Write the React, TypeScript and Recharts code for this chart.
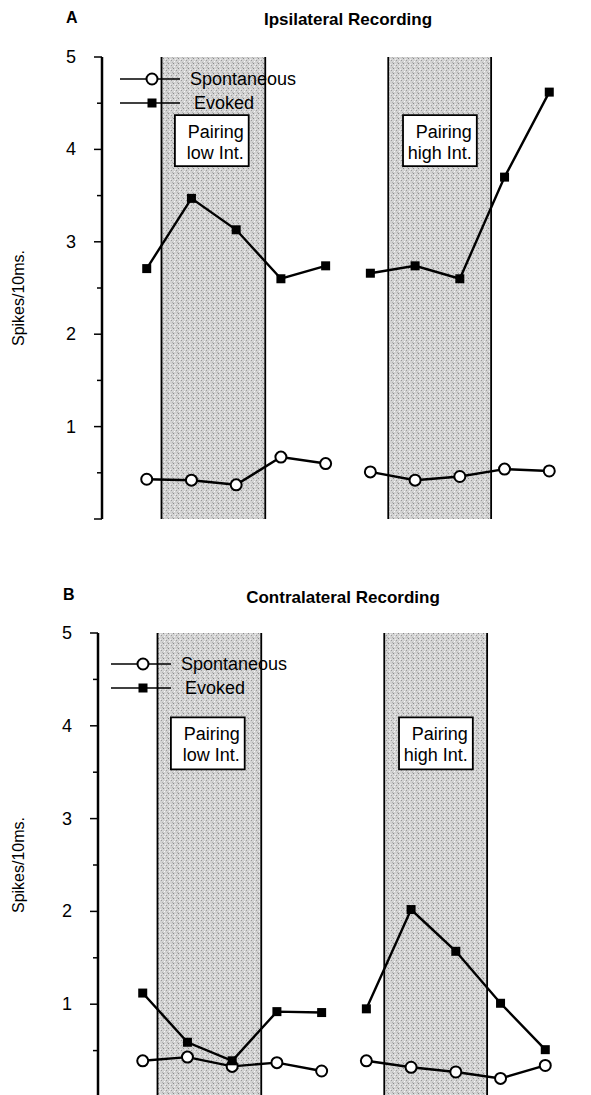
import React from 'react';
import { ComposedChart, Line, XAxis, YAxis, ReferenceArea, Legend } from 'recharts';

// session numbers along the x axis (1-5 low intensity block, 6-10 high intensity block)
const sessions = [1, 2, 3, 4, 5, 6, 7, 8, 9, 10];

const ipsiSpontaneous = [0.43, 0.42, 0.37, 0.67, 0.6, 0.51, 0.42, 0.46, 0.54, 0.52];
const ipsiEvoked = [2.71, 3.47, 3.13, 2.6, 2.74, 2.66, 2.74, 2.6, 3.7, 4.62];

const contraSpontaneous = [0.39, 0.43, 0.33, 0.37, 0.28, 0.39, 0.32, 0.27, 0.2, 0.34];
const contraEvoked = [1.12, 0.59, 0.39, 0.92, 0.91, 0.95, 2.02, 1.57, 1.01, 0.51];

const yTicks = [0, 0.5, 1, 1.5, 2, 2.5, 3, 3.5, 4, 4.5, 5];
const lowPairing = [1.33, 3.65];
const highPairing = [6.4, 8.7];
const seriesOrder = ['Spontaneous', 'Evoked'];

const FONT = '"Liberation Sans", Arial, Helvetica, sans-serif';

const toPoints = (vals: number[], from: number, to: number) =>
  sessions.slice(from, to).map((s, i) => ({ x: s, v: vals[from + i] }));

const YTick = (props: any) => {
  const { x, y, payload } = props;
  const major = Number.isInteger(payload.value);
  return (
    <g>
      <line x1={x - (major ? 8 : 5)} x2={x} y1={y} y2={y} stroke="#000" strokeWidth={1.5} />
      {major && payload.value > 0 && (
        <text x={x - 26} y={y} textAnchor="end" dominantBaseline="central" fontSize={18} fontFamily={FONT} fill="#000">
          {payload.value}
        </text>
      )}
    </g>
  );
};

const SideLabel = (props: any) => {
  const { viewBox, text, shift = 0 } = props;
  const cx = viewBox.x + 10;
  const cy = viewBox.y + viewBox.height / 2 + shift;
  return (
    <text x={cx} y={cy} transform={`rotate(-90, ${cx}, ${cy})`} textAnchor="middle" dominantBaseline="central"
      fontSize={16} fontFamily={FONT} fill="#000">
      {text}
    </text>
  );
};

// stippled grey band with black edges
const StippleBand = (props: any) => {
  const { x, y, width, height, id } = props;
  return (
    <g>
      <defs>
        <pattern id={id} width={5} height={5} patternUnits="userSpaceOnUse">
          <rect width={5} height={5} fill="#d3d3d3" />
          <rect x={0} y={0} width={1} height={1} fill="#8a8a8a" />
          <rect x={3} y={2} width={1} height={1} fill="#9c9c9c" />
          <rect x={1} y={3} width={1} height={1} fill="#f4f4f4" />
          <rect x={4} y={4} width={1} height={1} fill="#b0b0b0" />
          <rect x={2} y={1} width={1} height={1} fill="#f0f0f0" />
        </pattern>
      </defs>
      <rect x={x} y={y} width={width} height={height} fill={`url(#${id})`} />
      <line x1={x} x2={x} y1={y} y2={y + height} stroke="#000" strokeWidth={1.8} />
      <line x1={x + width} x2={x + width} y1={y} y2={y + height} stroke="#000" strokeWidth={1.8} />
    </g>
  );
};

const BoxText = (props: any) => {
  const { viewBox, lines } = props;
  const right = viewBox.x + viewBox.width - 5;
  return (
    <text fontSize={18} fontFamily={FONT} fill="#000" textAnchor="end">
      <tspan x={right} y={viewBox.y + 23}>{lines[0]}</tspan>
      <tspan x={right} y={viewBox.y + 44}>{lines[1]}</tspan>
    </text>
  );
};

const CircleDot = (props: any) => {
  const { cx, cy } = props;
  if (cx == null || cy == null) return null;
  return <circle cx={cx} cy={cy} r={5.5} fill="#fff" stroke="#000" strokeWidth={2} />;
};

const SquareDot = (props: any) => {
  const { cx, cy } = props;
  if (cx == null || cy == null) return null;
  return <rect x={cx - 4.5} y={cy - 4.5} width={9} height={9} fill="#000" />;
};

const LegendBox = (props: any) => {
  const names = new Set((props.payload || []).map((e: any) => e.value));
  const items = seriesOrder.filter((n) => names.has(n));
  return (
    <div style={{ fontFamily: FONT, fontSize: 18, color: '#000' }}>
      {items.map((name) => (
        <div key={name} style={{ display: 'flex', alignItems: 'center', height: 24 }}>
          <svg width={60} height={24} style={{ display: 'block' }}>
            <line x1={0} x2={60} y1={12} y2={12} stroke="#000" strokeWidth={1.5} />
            {name === 'Spontaneous' ? (
              <circle cx={32} cy={12} r={5.5} fill="#fff" stroke="#000" strokeWidth={2} />
            ) : (
              <rect x={27.5} y={7.5} width={9} height={9} fill="#000" />
            )}
          </svg>
          <span style={{ marginLeft: name === 'Evoked' ? 14 : 10, lineHeight: '24px' }}>{name}</span>
        </div>
      ))}
    </div>
  );
};

interface PanelProps {
  id: string;
  spontaneous: number[];
  evoked: number[];
  axisWidth: number;
  top: number;
  plotHeight: number;
  labelShift: number;
  legendPos: { left: number; top: number };
  lowBox: [number, number];
  highBox: [number, number];
}

const Panel: React.FC<PanelProps> = ({ id, spontaneous, evoked, axisWidth, top, plotHeight, labelShift, legendPos, lowBox, highBox }) => {
  const plotWidth = 492;
  return (
    <ComposedChart
      width={axisWidth + plotWidth}
      height={top + plotHeight + 10}
      margin={{ top, right: 0, bottom: 10, left: 0 }}
    >
      <XAxis type="number" dataKey="x" domain={[0, 11]} ticks={[]} tick={false} tickLine={false} height={0}
        axisLine={{ stroke: '#000', strokeWidth: 2 }} allowDataOverflow />
      <XAxis xAxisId="top" orientation="top" type="number" dataKey="x" domain={[0, 11]} ticks={[]} tick={false}
        tickLine={false} height={0} axisLine={{ stroke: '#000', strokeWidth: 2 }} allowDataOverflow />
      <YAxis type="number" domain={[0, 5]} ticks={yTicks} interval={0} width={axisWidth} tickSize={0} tickMargin={0}
        tickLine={false} tick={<YTick />} axisLine={{ stroke: '#000', strokeWidth: 2.5 }} allowDataOverflow
        label={<SideLabel text="Spikes/10ms." shift={labelShift} />} />
      <YAxis yAxisId="right" orientation="right" type="number" domain={[0, 5]} width={0} tick={false} tickLine={false}
        axisLine={{ stroke: '#000', strokeWidth: 2 }} />

      <ReferenceArea x1={lowPairing[0]} x2={lowPairing[1]} y1={0} y2={5}
        shape={(p: any) => <StippleBand {...p} id={`${id}-low`} />} />
      <ReferenceArea x1={highPairing[0]} x2={highPairing[1]} y1={0} y2={5}
        shape={(p: any) => <StippleBand {...p} id={`${id}-high`} />} />
      <ReferenceArea x1={1.63} x2={3.28} y1={lowBox[0]} y2={lowBox[1]} fill="#fff" fillOpacity={1}
        stroke="#000" strokeWidth={1.8} label={<BoxText lines={['Pairing', 'low Int.']} />} />
      <ReferenceArea x1={6.73} x2={8.38} y1={highBox[0]} y2={highBox[1]} fill="#fff" fillOpacity={1}
        stroke="#000" strokeWidth={1.8} label={<BoxText lines={['Pairing', 'high Int.']} />} />

      <Line data={toPoints(spontaneous, 0, 5)} dataKey="v" name="Spontaneous" stroke="#000" strokeWidth={2.4}
        dot={<CircleDot />} activeDot={false} isAnimationActive={false} />
      <Line data={toPoints(evoked, 0, 5)} dataKey="v" name="Evoked" stroke="#000" strokeWidth={2.4}
        dot={<SquareDot />} activeDot={false} isAnimationActive={false} />
      <Line data={toPoints(spontaneous, 5, 10)} dataKey="v" name="Spontaneous" stroke="#000"
        strokeWidth={2.4} dot={<CircleDot />} activeDot={false} isAnimationActive={false} />
      <Line data={toPoints(evoked, 5, 10)} dataKey="v" name="Evoked" stroke="#000"
        strokeWidth={2.4} dot={<SquareDot />} activeDot={false} isAnimationActive={false} />

      {/* vertical + centered so the legend takes no room from the plot */}
      <Legend content={<LegendBox />} layout="vertical" align="center" verticalAlign="middle"
        wrapperStyle={{ position: 'absolute', left: legendPos.left, top: legendPos.top, width: 'auto', bottom: 'auto' }} />
    </ComposedChart>
  );
};

const titleStyle: React.CSSProperties = {
  position: 'absolute',
  fontFamily: FONT,
  fontWeight: 'bold',
  color: '#000',
  whiteSpace: 'nowrap',
};

export default function App() {
  return (
    <div style={{ position: 'relative', width: 583, height: 1087, overflow: 'hidden', background: '#fff' }}>
      <div style={{ ...titleStyle, left: 58, top: 0, fontSize: 16, lineHeight: '20px' }}>A</div>
      <div style={{ ...titleStyle, left: 240, width: 200, top: 2, fontSize: 17, lineHeight: '20px', textAlign: 'center' }}>
        Ipsilateral Recording
      </div>
      <div style={{ position: 'absolute', left: 0, top: 0 }}>
        <Panel id="ipsi" spontaneous={ipsiSpontaneous} evoked={ipsiEvoked} axisWidth={94} top={49} plotHeight={462}
          labelShift={10} legendPos={{ left: 112, top: 59 }} lowBox={[3.82, 4.37]} highBox={[3.82, 4.37]} />
      </div>

      <div style={{ ...titleStyle, left: 55, top: 577, fontSize: 16, lineHeight: '20px' }}>B</div>
      <div style={{ ...titleStyle, left: 230, width: 210, top: 580, fontSize: 17, lineHeight: '20px', textAlign: 'center' }}>
        Contralateral Recording
      </div>
      <div style={{ position: 'absolute', left: 0, top: 580 }}>
        <Panel id="contra" spontaneous={contraSpontaneous} evoked={contraEvoked} axisWidth={90} top={45} plotHeight={464}
          labelShift={0} legendPos={{ left: 103, top: 64 }} lowBox={[3.53, 4.09]} highBox={[3.53, 4.09]} />
      </div>
    </div>
  );
}
